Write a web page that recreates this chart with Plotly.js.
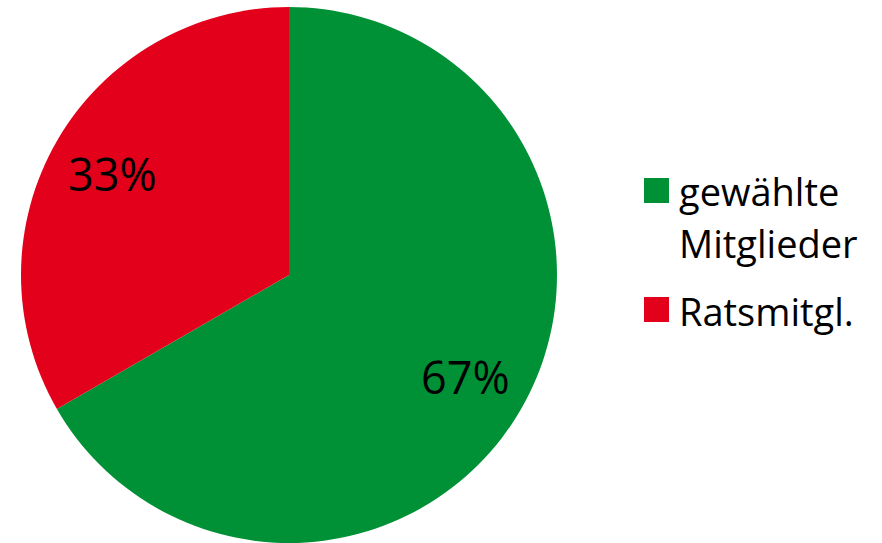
<!DOCTYPE html>
<html>
<head>
<meta charset="utf-8">
<script src="https://cdn.plot.ly/plotly-3.0.1.min.js"></script>
<style>html,body{margin:0;padding:0;background:#fff;}#chart{width:882px;height:543px;}</style>
</head>
<body>
<div id="chart"></div>
<script>
const labels = ['gewählte Mitglieder', 'Ratsmitgl.'];
const values = [2, 1];
const colors = ['#009136', '#E2001A'];

const W = 882, H = 543;
const FONT = '"Open Sans", Lato, sans-serif';
// pie placement (pixels)
const cx = 289, cy = 275, r = 268;

const total = values.reduce((a, b) => a + b, 0);
const annotations = [];
const shapes = [];

// percentage labels placed along the mid-angle of each slice
let acc = 0;
values.forEach((v, i) => {
  const mid = (acc + v / 2) / total * 2 * Math.PI; // clockwise from top
  acc += v;
  const px = cx + 0.76 * r * Math.sin(mid);
  const py = cy - 0.76 * r * Math.cos(mid);
  annotations.push({
    xref: 'paper', yref: 'paper', x: px / W, y: 1 - py / H,
    xanchor: 'center', yanchor: 'middle', showarrow: false,
    text: Math.round(v / total * 100) + '%',
    font: {family: FONT, size: 45, color: '#000'}
  });
});

// custom legend
const legendRows = [190.5, 309.5];
labels.forEach((lab, i) => {
  const yc = legendRows[i];
  shapes.push({
    type: 'rect', xref: 'paper', yref: 'paper',
    x0: 644 / W, x1: 669 / W, y0: 1 - (yc + 12.5) / H, y1: 1 - (yc - 12.5) / H,
    fillcolor: colors[i], line: {width: 0}
  });
  const words = lab.split(' ');
  words.forEach((w, j) => {
    annotations.push({
      xref: 'paper', yref: 'paper', x: 677 / W, y: 1 - (yc + 1 + j * 51) / H,
      xanchor: 'left', yanchor: 'middle', showarrow: false,
      text: w, font: {family: FONT, size: 38, color: '#000'}
    });
  });
});

const data = [{
  type: 'pie',
  labels: labels,
  values: values,
  marker: {colors: colors, line: {width: 0}},
  sort: false,
  direction: 'clockwise',
  rotation: 0,
  textinfo: 'none',
  hoverinfo: 'label+percent',
  showlegend: false,
  domain: {x: [(cx - r) / W, (cx + r) / W], y: [1 - (cy + r) / H, 1 - (cy - r) / H]}
}];

const layout = {
  width: W, height: H,
  margin: {l: 0, r: 0, t: 0, b: 0},
  paper_bgcolor: '#fff',
  showlegend: false,
  annotations: annotations,
  shapes: shapes
};

Plotly.newPlot('chart', data, layout, {displayModeBar: false, staticPlot: true});
</script>
</body>
</html>
